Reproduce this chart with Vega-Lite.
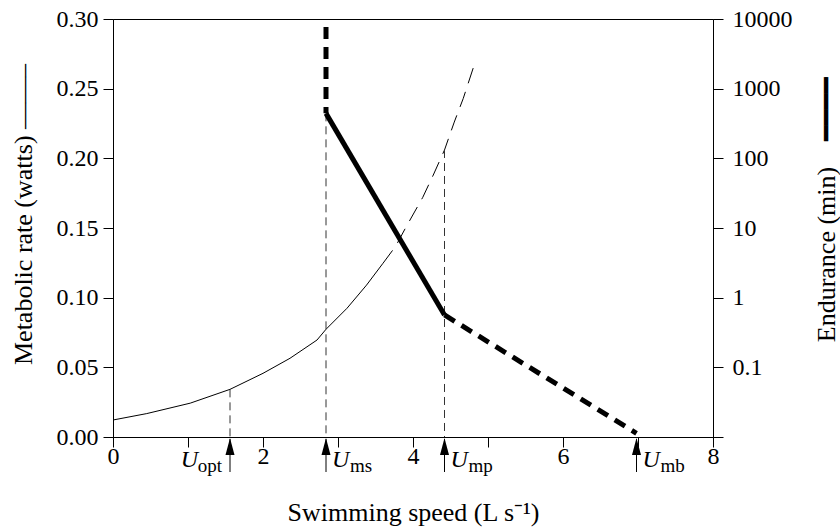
{
  "$schema": "https://vega.github.io/schema/vega-lite/v6.json",
  "width": 600,
  "height": 418,
  "autosize": {"type": "none"},
  "padding": {"left": 113, "top": 19, "right": 127, "bottom": 94},
  "background": "white",
  "config": {
    "font": "Liberation Serif",
    "view": {"stroke": "black", "strokeWidth": 1},
    "axis": {
      "domainColor": "black", "tickColor": "black", "labelColor": "black", "titleColor": "black",
      "titleFontWeight": "normal", "grid": false,
      "labelFont": "Liberation Serif", "titleFont": "Liberation Serif",
      "labelFontSize": 24, "titleFontSize": 26, "tickSize": 10, "domainWidth": 1, "tickWidth": 1
    }
  },
  "datasets": {
    "metabolic": [
      {"speed": 0, "rate": 0.0122, "seg": "solid"},
      {"speed": 0.45, "rate": 0.0168, "seg": "solid"},
      {"speed": 1.03, "rate": 0.0243, "seg": "solid"},
      {"speed": 1.56, "rate": 0.0342, "seg": "solid"},
      {"speed": 2.0, "rate": 0.0457, "seg": "solid"},
      {"speed": 2.36, "rate": 0.0565, "seg": "solid"},
      {"speed": 2.72, "rate": 0.0696, "seg": "solid"},
      {"speed": 2.84, "rate": 0.0773, "seg": "solid"},
      {"speed": 3.12, "rate": 0.0924, "seg": "solid"},
      {"speed": 3.38, "rate": 0.109, "seg": "solid"},
      {"speed": 3.6, "rate": 0.1247, "seg": "solid"},
      {"speed": 3.6, "rate": 0.1247, "seg": "dashed"},
      {"speed": 3.77, "rate": 0.137, "seg": "dashed"},
      {"speed": 3.9, "rate": 0.15, "seg": "dashed"},
      {"speed": 4.13, "rate": 0.172, "seg": "dashed"},
      {"speed": 4.27, "rate": 0.188, "seg": "dashed"},
      {"speed": 4.42, "rate": 0.206, "seg": "dashed"},
      {"speed": 4.55, "rate": 0.226, "seg": "dashed"},
      {"speed": 4.67, "rate": 0.243, "seg": "dashed"},
      {"speed": 4.81, "rate": 0.266, "seg": "dashed"}
    ],
    "endurance": [
      {"speed": 2.84, "endurance": 7700, "seg": "a", "style": "dashed"},
      {"speed": 2.84, "endurance": 442, "seg": "a", "style": "dashed"},
      {"speed": 2.84, "endurance": 442, "seg": "b", "style": "solid"},
      {"speed": 4.42, "endurance": 0.564, "seg": "b", "style": "solid"},
      {"speed": 4.42, "endurance": 0.564, "seg": "c", "style": "dashed"},
      {"speed": 6.98, "endurance": 0.0113, "seg": "c", "style": "dashed"}
    ],
    "markers": [
      {"speed": 1.56, "top": 0.0342, "sub": "opt", "side": "left"},
      {"speed": 2.84, "top": 0.2323, "sub": "ms", "side": "right"},
      {"speed": 4.42, "top": 0.206, "sub": "mp", "side": "right"},
      {"speed": 6.98, "top": 0, "sub": "mb", "side": "right"}
    ]
  },
  "layer": [
    {
      "layer": [
        {
          "data": {"name": "metabolic"},
          "transform": [{"filter": "datum.seg === 'solid'"}],
          "mark": {"type": "line", "color": "black", "strokeWidth": 1},
          "encoding": {
            "x": {
              "field": "speed", "type": "quantitative",
              "scale": {"domain": [0, 8], "nice": false, "zero": false},
              "axis": {
                "values": [0, 1, 2, 3, 4, 5, 6, 7, 8],
                "labelExpr": "datum.value % 2 === 0 ? format(datum.value, 'd') : ''",
                "labelFlush": false, "labelBaseline": "alphabetic", "labelPadding": 16,
                "title": "Swimming speed (L s⁻¹)",
                "titleBaseline": "alphabetic", "titleY": 83
              }
            },
            "y": {
              "field": "rate", "type": "quantitative",
              "scale": {"domain": [0, 0.3], "nice": false},
              "axis": {
                "values": [0, 0.05, 0.1, 0.15, 0.2, 0.25, 0.3],
                "format": ".2f", "labelPadding": 5,
                "title": "Metabolic rate (watts) ——–",
                "titleAngle": 270, "titleAlign": "center", "titleBaseline": "alphabetic",
                "titleX": -82, "titleY": 195
              }
            }
          }
        },
        {
          "data": {"name": "metabolic"},
          "transform": [{"filter": "datum.seg === 'dashed'"}],
          "mark": {"type": "line", "color": "black", "strokeWidth": 1, "strokeDash": [16, 9]},
          "encoding": {
            "x": {"field": "speed", "type": "quantitative", "scale": {"domain": [0, 8], "nice": false, "zero": false}},
            "y": {"field": "rate", "type": "quantitative"}
          }
        },
        {
          "data": {"name": "markers"},
          "transform": [{"filter": "datum.top > 0"}],
          "mark": {"type": "rule", "color": "#333", "strokeWidth": 1, "strokeDash": [8, 5]},
          "encoding": {
            "x": {"field": "speed", "type": "quantitative", "scale": {"domain": [0, 8], "nice": false, "zero": false}},
            "y": {"field": "top", "type": "quantitative"},
            "y2": {"datum": 0}
          }
        },
        {
          "data": {"name": "markers"},
          "mark": {"type": "rule", "color": "black", "strokeWidth": 1, "yOffset": 2, "y2Offset": 35},
          "encoding": {
            "x": {"field": "speed", "type": "quantitative", "scale": {"domain": [0, 8], "nice": false, "zero": false}},
            "y": {"datum": 0},
            "y2": {"datum": 0}
          }
        },
        {
          "data": {"name": "markers"},
          "mark": {"type": "point", "filled": true, "color": "black", "opacity": 1, "shape": "M0,-1L0.53,1L-0.53,1Z", "size": 289, "yOffset": 9.5},
          "encoding": {
            "x": {"field": "speed", "type": "quantitative", "scale": {"domain": [0, 8], "nice": false, "zero": false}},
            "y": {"datum": 0}
          }
        },
        {
          "data": {"name": "markers"},
          "transform": [{"filter": "datum.side === 'right'"}],
          "mark": {"type": "text", "text": "U", "font": "Liberation Serif", "fontStyle": "italic", "fontSize": 24, "align": "left", "baseline": "alphabetic", "dx": 6, "dy": 30, "color": "black"},
          "encoding": {
            "x": {"field": "speed", "type": "quantitative", "scale": {"domain": [0, 8], "nice": false, "zero": false}},
            "y": {"datum": 0}
          }
        },
        {
          "data": {"name": "markers"},
          "transform": [{"filter": "datum.side === 'right'"}],
          "mark": {"type": "text", "font": "Liberation Serif", "fontSize": 19, "align": "left", "baseline": "alphabetic", "dx": 24, "dy": 35, "color": "black"},
          "encoding": {
            "x": {"field": "speed", "type": "quantitative", "scale": {"domain": [0, 8], "nice": false, "zero": false}},
            "y": {"datum": 0},
            "text": {"field": "sub"}
          }
        },
        {
          "data": {"name": "markers"},
          "transform": [{"filter": "datum.side === 'left'"}],
          "mark": {"type": "text", "text": "U", "font": "Liberation Serif", "fontStyle": "italic", "fontSize": 24, "align": "right", "baseline": "alphabetic", "dx": -32, "dy": 30, "color": "black"},
          "encoding": {
            "x": {"field": "speed", "type": "quantitative", "scale": {"domain": [0, 8], "nice": false, "zero": false}},
            "y": {"datum": 0}
          }
        },
        {
          "data": {"name": "markers"},
          "transform": [{"filter": "datum.side === 'left'"}],
          "mark": {"type": "text", "font": "Liberation Serif", "fontSize": 19, "align": "right", "baseline": "alphabetic", "dx": -8, "dy": 35, "color": "black"},
          "encoding": {
            "x": {"field": "speed", "type": "quantitative", "scale": {"domain": [0, 8], "nice": false, "zero": false}},
            "y": {"datum": 0},
            "text": {"field": "sub"}
          }
        }
      ]
    },
    {
      "layer": [
        {
          "data": {"name": "endurance"},
          "transform": [{"filter": "datum.style === 'dashed'"}],
          "mark": {"type": "line", "color": "black", "strokeWidth": 5, "strokeDash": [12, 8]},
          "encoding": {
            "x": {"field": "speed", "type": "quantitative", "scale": {"domain": [0, 8], "nice": false, "zero": false}},
            "y": {
              "field": "endurance", "type": "quantitative",
              "scale": {"type": "log", "domain": [0.01, 10000], "nice": false},
              "axis": {
                "orient": "right",
                "values": [0.01, 0.1, 1, 10, 100, 1000, 10000],
                "labelExpr": "datum.value < 0.05 ? '' : (datum.value >= 1 ? format(datum.value, 'd') : format(datum.value, '.1f'))",
                "labelPadding": 9,
                "title": "Endurance (min)\u2003━━━━",
                "titleAngle": 270, "titleAlign": "center", "titleBaseline": "alphabetic",
                "titleX": 121, "titleY": 190
              }
            },
            "detail": {"field": "seg"}
          }
        },
        {
          "data": {"name": "endurance"},
          "transform": [{"filter": "datum.style === 'solid'"}],
          "mark": {"type": "line", "color": "black", "strokeWidth": 5},
          "encoding": {
            "x": {"field": "speed", "type": "quantitative", "scale": {"domain": [0, 8], "nice": false, "zero": false}},
            "y": {"field": "endurance", "type": "quantitative"}
          }
        }
      ]
    }
  ],
  "resolve": {"scale": {"y": "independent"}, "axis": {"y": "independent"}}
}
